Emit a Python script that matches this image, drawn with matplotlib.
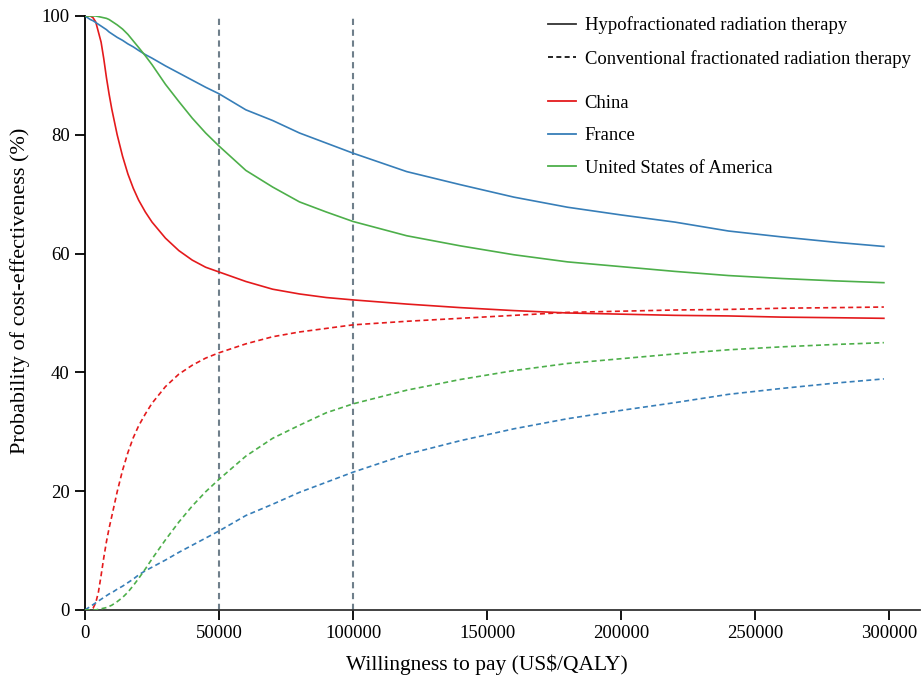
import matplotlib
matplotlib.use("Agg")
import matplotlib.pyplot as plt
from matplotlib.lines import Line2D

plt.rcParams['font.family'] = ['Liberation Serif', 'DejaVu Serif']

wtp = [0, 2000, 3000, 4000, 5000, 6000, 7000, 8000, 9000, 10000, 12000, 14000,
       16000, 18000, 20000, 22500, 25000, 30000, 35000, 40000, 45000, 50000,
       60000, 70000, 80000, 90000, 100000, 120000, 140000, 160000, 180000,
       200000, 220000, 240000, 260000, 280000, 298000]

china_hypo = [100, 100, 99.7, 99.0, 97.3, 95.6, 92.8, 89.6, 86.8, 84.3, 80.0, 76.4,
              73.4, 71.0, 69.0, 67.0, 65.3, 62.6, 60.5, 58.9, 57.7, 56.9,
              55.3, 54.0, 53.2, 52.6, 52.2, 51.5, 50.9, 50.4, 50.0,
              49.8, 49.6, 49.5, 49.3, 49.2, 49.1]
china_conv = [0, 0, 0.3, 1.2, 3.0, 5.8, 8.8, 11.5, 13.8, 15.8, 19.9, 23.5,
              26.5, 29.0, 31.0, 33.0, 34.8, 37.6, 39.7, 41.2, 42.4, 43.3,
              44.8, 46.0, 46.8, 47.4, 48.0, 48.6, 49.1, 49.6, 50.1,
              50.3, 50.5, 50.6, 50.8, 50.9, 51.0]
france_hypo = [100, 99.4, 99.2, 98.9, 98.6, 98.3, 98.0, 97.7, 97.3, 97.0, 96.4, 95.9,
               95.3, 94.8, 94.2, 93.5, 92.9, 91.6, 90.4, 89.2, 88.0, 86.9,
               84.2, 82.4, 80.3, 78.6, 76.9, 73.8, 71.6, 69.5, 67.8,
               66.5, 65.3, 63.8, 62.8, 61.9, 61.2]
france_conv = [0, 0.6, 0.9, 1.2, 1.5, 1.8, 2.1, 2.4, 2.7, 2.9, 3.5, 4.0,
               4.6, 5.2, 5.9, 6.6, 7.2, 8.4, 9.7, 10.9, 12.1, 13.3,
               15.9, 17.8, 19.8, 21.5, 23.2, 26.2, 28.5, 30.5, 32.2,
               33.6, 34.9, 36.3, 37.3, 38.2, 38.9]
usa_hypo = [100, 100, 100, 100, 99.9, 99.8, 99.7, 99.6, 99.4, 99.1, 98.5, 97.8,
            96.9, 95.8, 94.7, 93.3, 91.8, 88.5, 85.6, 82.8, 80.3, 78.1,
            74.0, 71.2, 68.7, 67.0, 65.4, 63.0, 61.3, 59.8, 58.6,
            57.8, 57.0, 56.3, 55.8, 55.4, 55.1]
usa_conv = [0, 0, 0, 0, 0.1, 0.2, 0.3, 0.4, 0.6, 0.8, 1.4, 2.1,
            3.0, 4.1, 5.3, 6.9, 8.6, 11.8, 14.8, 17.5, 19.9, 22.0,
            25.9, 28.9, 31.1, 33.2, 34.7, 37.0, 38.8, 40.3, 41.5,
            42.3, 43.1, 43.8, 44.3, 44.7, 45.0]

thresholds = [50000, 100000]
countries = ['China', 'France', 'United States of America']
colors = ['#e41a1c', '#377eb8', '#4daf4a']
x_ticks = [0, 50000, 100000, 150000, 200000, 250000, 300000]
y_ticks = [0, 20, 40, 60, 80, 100]
x_max = 311500

fig = plt.figure(figsize=(9.21, 6.8), dpi=100)
ax = fig.add_axes([0.0923, 0.103, 0.9067, 0.8735])

for t in thresholds:
    ax.axvline(t, color='#6f7f8b', lw=1.5, ls=(0, (3, 2.2)), zorder=1)

series = [(china_hypo, china_conv), (france_hypo, france_conv), (usa_hypo, usa_conv)]
for (h, c), col in zip(series, colors):
    ax.plot(wtp, h, color=col, lw=1.2, zorder=3)
    ax.plot(wtp, c, color=col, lw=1.2, ls=(0, (3, 2)), zorder=3)

ax.set_xlim(0, x_max)
ax.set_ylim(0, 100)
ax.set_xticks(x_ticks)
ax.set_xticklabels([str(v) for v in x_ticks])
ax.set_yticks(y_ticks)
ax.spines['top'].set_visible(False)
ax.spines['right'].set_visible(False)
ax.spines['left'].set_linewidth(1.3)
ax.spines['bottom'].set_linewidth(1.3)
ax.spines['bottom'].set_color('#333333')
ax.tick_params(direction='out', length=7, width=1.3, labelsize=13.5, pad=4)
ax.set_xlabel('Willingness to pay (US$/QALY)', fontsize=15.5)
ax.set_ylabel('Probability of cost-effectiveness (%)', fontsize=16)
ax.xaxis.set_label_coords(150000 / x_max, -0.075)
ax.yaxis.set_label_coords(-0.066, 0.537)

h1 = [Line2D([], [], color='#333333', lw=1.3),
      Line2D([], [], color='black', lw=1.2, ls=(0, (3, 2)))]
leg_kw = dict(loc='upper left', frameon=False, fontsize=13.4, handlelength=1.5,
              handletextpad=0.45, labelspacing=0.83, borderaxespad=0)
leg1 = ax.legend(h1, ['Hypofractionated radiation therapy',
                      'Conventional fractionated radiation therapy'],
                 bbox_to_anchor=(0.546, 1.0116), **leg_kw)
ax.add_artist(leg1)
h2 = [Line2D([], [], color=c, lw=1.3) for c in colors]
ax.legend(h2, countries, bbox_to_anchor=(0.546, 0.880), **leg_kw)

fig.savefig('out.png', dpi=100)
